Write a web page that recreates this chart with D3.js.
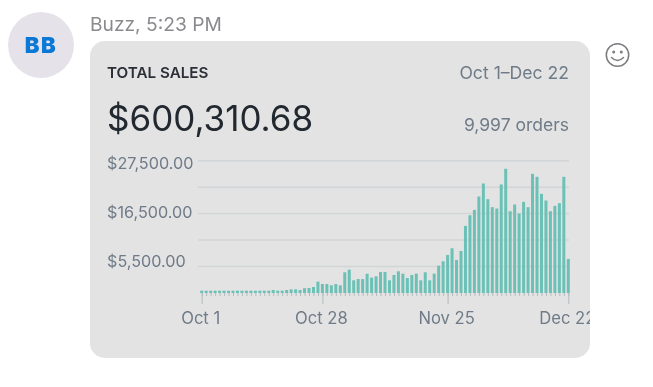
<!DOCTYPE html>
<html>
<head>
<meta charset="utf-8">
<script src="https://cdn.jsdelivr.net/npm/d3@7"></script>
<style>
  html, body { margin: 0; padding: 0; background: #fff; }
  svg { display: block; }
  text { font-family: Inter, "Noto Sans", sans-serif; }
  #chart-layer, #card-text, #header-layer { filter: blur(0.45px); }
</style>
</head>
<body>
<div id="wrapper"></div>
<script>
const startDay = "2019-10-01"

// daily sales, Oct 1 to Dec 22
const dailySales = [
  480, 480, 470, 480, 470, 480, 470, 480, 480, 470,
  480, 480, 470, 480, 480, 480, 620, 480, 480, 620,
  760, 760, 620, 1000, 1040, 1250, 2360, 1870, 1870, 1600,
  1870, 1600, 4300, 4860, 2640, 2900, 2900, 4000, 3200, 3470,
  4370, 4370, 2640, 3750, 4510, 4025, 3120, 3750, 4025, 2640,
  4300, 2640, 4025, 5690, 6590, 7910, 9300, 6870, 8745, 13950,
  16170, 17280, 20060, 22760, 19500, 17840, 17560, 22560, 25820, 17000,
  18390, 16520, 18950, 17840, 24780, 24150, 20610, 19220, 17000, 18110,
  18670, 24150, 7080,
]
const yLabelValues = [5500, 16500, 27500]
const gridValues = [5500, 11000, 16500, 22000, 27500]
const xLabelDays = ["2019-10-01", "2019-10-28", "2019-11-25", "2019-12-22"]

const dimensions = { width: 653, height: 387 }

const parseDay = d3.utcParse("%Y-%m-%d")
const days = dailySales.map((d, i) => d3.utcDay.offset(parseDay(startDay), i))

const xScale = d3.scaleUtc()
    .domain(d3.extent(days))
    .range([201.7, 568.3])

const yScale = d3.scaleLinear()
    .domain([0, 27500])
    .range([293, 160.7])

// the labels sit closer together than the grid lines they name
const yLabelScale = d3.scaleLinear()
    .domain([5500, 27500])
    .range([261.3, 163.3])

const wrapper = d3.select("#wrapper")
  .append("svg")
    .attr("width", dimensions.width)
    .attr("height", dimensions.height)

// avatar and message header
const header = wrapper.append("g").attr("id", "header-layer")
header.append("circle")
    .attr("cx", 41).attr("cy", 45).attr("r", 33)
    .attr("fill", "#e5e3e9")
header.append("text")
    .attr("x", 41).attr("y", 53)
    .attr("text-anchor", "middle")
    .attr("font-size", 22).attr("font-weight", 900)
    .attr("letter-spacing", 1.5)
    .attr("fill", "#0b78d6")
    .text("BB")
header.append("text")
    .attr("x", 90).attr("y", 31)
    .attr("font-size", 19.2)
    .attr("fill", "#8a8a8e")
    .text("Buzz, 5:23 PM")

// smiley
const smiley = header.append("g")
    .attr("transform", "translate(617.5,55)")
    .attr("fill", "none")
    .attr("stroke", "#7c7c80")
    .attr("stroke-width", 1.5)
smiley.append("circle").attr("r", 11.2)
smiley.append("path").attr("d", "M-6,2.5 Q0,8.5 6,2.5").attr("stroke-linecap", "round")
smiley.selectAll(".eye").data([-3.8, 3.8]).join("circle")
    .attr("class", "eye")
    .attr("cx", d => d).attr("cy", -3).attr("r", 1.5)
    .attr("fill", "#7c7c80").attr("stroke", "none")

// card
wrapper.append("defs").append("clipPath").attr("id", "card-clip")
  .append("rect")
    .attr("x", 90).attr("y", 41).attr("width", 500).attr("height", 317).attr("rx", 15)
const card = wrapper.append("g").attr("clip-path", "url(#card-clip)")
card.append("rect")
    .attr("x", 90).attr("y", 41).attr("width", 500).attr("height", 317)
    .attr("fill", "#e3e3e3")

const cardText = card.append("g").attr("id", "card-text")
cardText.append("text")
    .attr("x", 107).attr("y", 77.5)
    .attr("font-size", 15.2).attr("font-weight", 600)
    .attr("fill", "#2b3038")
    .text("TOTAL SALES")
cardText.append("text")
    .attr("x", 107).attr("y", 131)
    .attr("font-size", 35)
    .attr("fill", "#22282f")
    .text("$600,310.68")
cardText.append("text")
    .attr("x", 569).attr("y", 79)
    .attr("text-anchor", "end")
    .attr("font-size", 17.6)
    .attr("fill", "#6f7b88")
    .text("Oct 1–Dec 22")
cardText.append("text")
    .attr("x", 569).attr("y", 131)
    .attr("text-anchor", "end")
    .attr("font-size", 17.5)
    .attr("fill", "#6f7b88")
    .text("9,997 orders")

const bounds = card.append("g").attr("id", "chart-layer")

// y labels, flush left
const yAxisGenerator = d3.axisLeft(yLabelScale)
    .tickValues(yLabelValues)
    .tickSize(0)
    .tickPadding(0)
    .tickFormat(d3.format("$,.2f"))

const yAxis = bounds.append("g")
    .attr("transform", "translate(107,0)")
    .call(yAxisGenerator)
yAxis.select(".domain").remove()
yAxis.selectAll("text")
    .attr("text-anchor", "start")
    .attr("font-size", 16.2)
    .attr("font-family", "Inter, sans-serif")
    .attr("fill", "#6f7b88")

// grid lines
bounds.append("g").selectAll("line").data(gridValues).join("line")
    .attr("x1", 198).attr("x2", 569)
    .attr("y1", d => yScale(d)).attr("y2", d => yScale(d))
    .attr("stroke", "#d2d5d8")
    .attr("stroke-width", 1.5)

// small day ticks
const xAxisGenerator = d3.axisBottom(xScale)
    .tickValues(days)
    .tickSize(3)
    .tickFormat("")
const minorAxis = bounds.append("g")
    .attr("transform", "translate(0,293)")
    .call(xAxisGenerator)
minorAxis.select(".domain").remove()
minorAxis.selectAll("line").attr("stroke", "#b4bbc0")

// labelled ticks
const labelAxisGenerator = d3.axisBottom(xScale)
    .tickValues(xLabelDays.map(parseDay))
    .tickSize(11)
    .tickPadding(8.5)
    .tickFormat(d3.utcFormat("%b %-d"))
const labelAxis = bounds.append("g")
    .attr("transform", "translate(0,293)")
    .call(labelAxisGenerator)
labelAxis.select(".domain").remove()
labelAxis.selectAll("line").attr("stroke", "#b4bbc0")
labelAxis.selectAll("text")
    .attr("dx", -1.5)
    .attr("font-size", 16.6)
    .attr("font-family", "Inter, sans-serif")
    .attr("fill", "#6f7b88")

// bars
bounds.append("g").selectAll("rect").data(dailySales).join("rect")
    .attr("x", (d, i) => xScale(days[i]) - 1.5)
    .attr("y", d => yScale(d))
    .attr("width", 3)
    .attr("height", d => yScale(0) - yScale(d))
    .attr("fill", "#6cc1b6")
</script>
</body>
</html>
